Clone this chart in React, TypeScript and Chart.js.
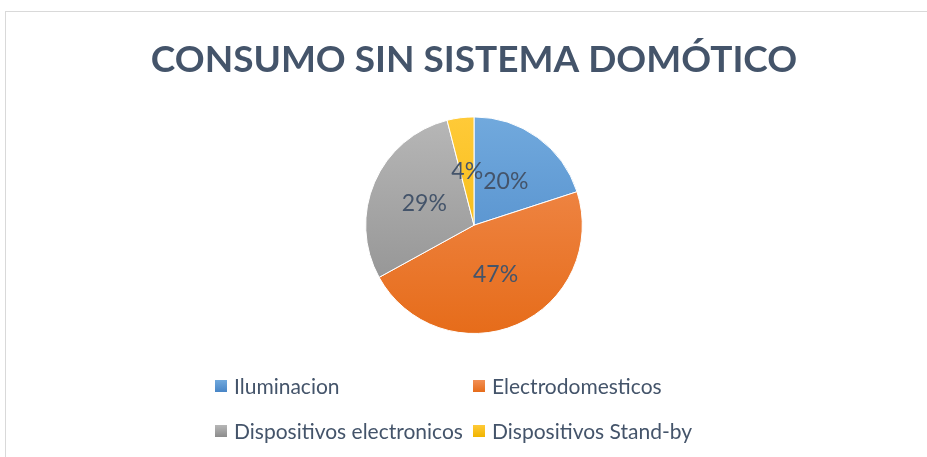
import React, { useEffect, useRef } from "react";
import { Chart, registerables } from "chart.js";

Chart.register(...registerables);

const categories = ["Iluminacion", "Electrodomesticos", "Dispositivos electronicos", "Dispositivos Stand-by"];
const values = [20, 47, 29, 4];
const colorsTop = ["#71A9DD", "#F28F55", "#B7B7B7", "#FFCA38"];
const colorsBottom = ["#4885C6", "#E66C1A", "#8C8C8C", "#F0B400"];
const titleText = "CONSUMO SIN SISTEMA DOMÓTICO";
const textColor = "#44546A";
const FONT = "Lato, 'Open Sans', sans-serif";

const labelPlugin = {
  id: "pctLabels",
  afterDatasetsDraw(chart: any) {
    const ctx = chart.ctx;
    const meta = chart.getDatasetMeta(0);
    const data = chart.data.datasets[0].data as number[];
    const total = data.reduce((a, b) => a + b, 0);
    ctx.save();
    ctx.font = `23px ${FONT}`;
    ctx.fillStyle = textColor;
    ctx.textAlign = "center";
    ctx.textBaseline = "middle";
    meta.data.forEach((arc: any, i: number) => {
      const p = arc.tooltipPosition(false);
      ctx.fillText(Math.round((data[i] / total) * 100) + "%", p.x, p.y);
    });
    ctx.restore();
  },
};

export default function App() {
  const ref = useRef<HTMLCanvasElement>(null);
  useEffect(() => {
    const canvas = ref.current!;
    const chart = new Chart(canvas, {
      type: "pie",
      data: {
        labels: categories,
        datasets: [
          {
            data: values,
            backgroundColor: (c: any) => {
              const area = c.chart.chartArea;
              const i = c.dataIndex;
              if (!area || i === undefined) return colorsTop[i ?? 0];
              const g = c.chart.ctx.createLinearGradient(0, area.top, 0, area.bottom);
              g.addColorStop(0, colorsTop[i]);
              g.addColorStop(1, colorsBottom[i]);
              return g;
            },
            borderColor: "#FFFFFF",
            borderWidth: 1,
          },
        ],
      },
      options: {
        responsive: false,
        animation: false,
        layout: { padding: { top: 0, bottom: 123, left: 21, right: 0 } },
        plugins: {
          legend: { display: false },
          tooltip: { enabled: false },
          title: {
            display: true,
            text: titleText,
            color: textColor,
            font: { family: FONT, size: 37, weight: "bold", lineHeight: 1.2 },
            padding: { top: 38, bottom: 34 },
          },
        },
      },
      plugins: [labelPlugin],
    });
    return () => chart.destroy();
  }, []);

  const legendItem = (i: number, left: number, top: number) => (
    <div
      key={i}
      style={{
        position: "absolute",
        left,
        top,
        display: "flex",
        alignItems: "center",
        whiteSpace: "nowrap",
        fontFamily: FONT,
        fontSize: 21,
        color: textColor,
        lineHeight: "24px",
      }}
    >
      <span
        style={{
          display: "inline-block",
          width: 12,
          height: 12,
          marginRight: 7,
          background: `linear-gradient(${colorsTop[i]}, ${colorsBottom[i]})`,
        }}
      />
      {categories[i]}
    </div>
  );

  return (
    <div style={{ position: "fixed", left: 0, top: 0, width: 927, height: 457, overflow: "hidden", background: "#fff" }}>
      <div
        style={{
          position: "absolute",
          left: 5,
          top: 11,
          width: 960,
          height: 480,
          border: "1px solid #D9D9D9",
          boxSizing: "border-box",
        }}
      />
      <canvas ref={ref} width={927} height={457} style={{ position: "absolute", left: 0, top: 0 }} />
      {legendItem(0, 215, 374)}
      {legendItem(1, 473, 374)}
      {legendItem(2, 215, 419)}
      {legendItem(3, 473, 419)}
    </div>
  );
}
